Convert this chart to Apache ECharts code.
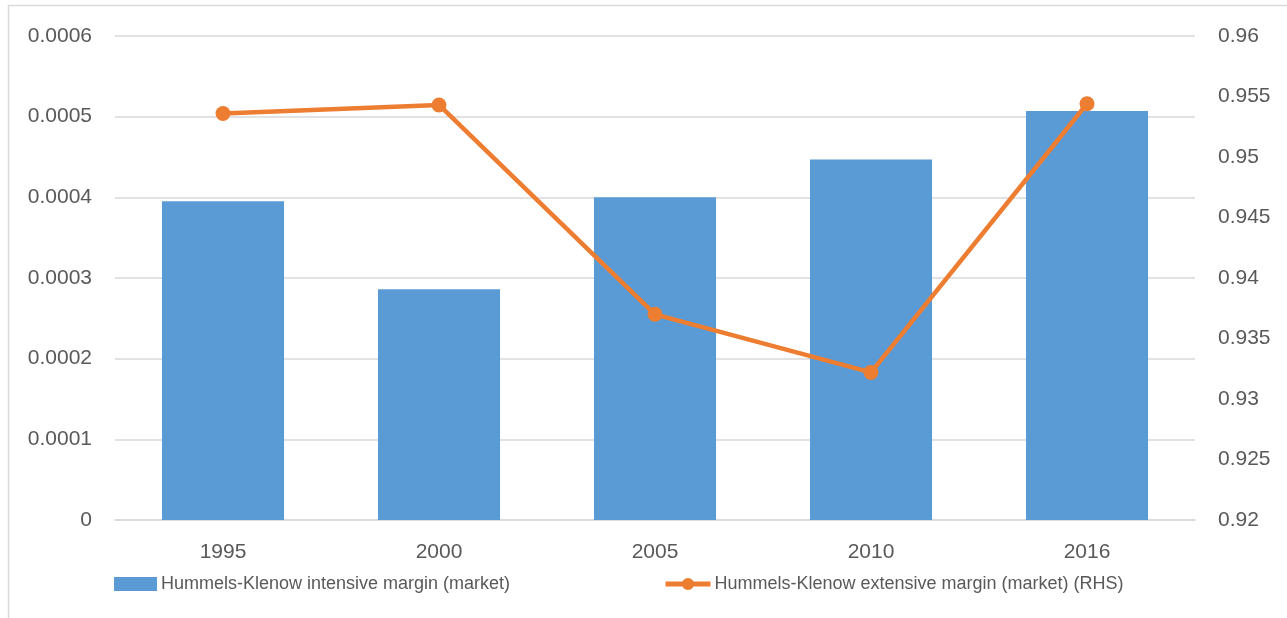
<!DOCTYPE html>
<html>
<head>
<meta charset="utf-8">
<script src="https://cdn.jsdelivr.net/npm/echarts@6/dist/echarts.min.js"></script>
<style>html,body{margin:0;padding:0;background:#fff;}#c{width:1287px;height:618px;}</style>
</head>
<body>
<div id="c"></div>
<script>
const categories = ['1995', '2000', '2005', '2010', '2016'];
const intensiveName = 'Hummels-Klenow intensive margin (market)';
const extensiveName = 'Hummels-Klenow extensive margin (market) (RHS)';
const intensive = [0.000395, 0.000286, 0.000400, 0.000447, 0.000507];
const extensive = [0.9536, 0.9543, 0.9370, 0.9322, 0.9544];
const leftTicks = { min: 0, max: 0.0006, interval: 0.0001 };
const rightTicks = { min: 0.92, max: 0.96, interval: 0.005 };

const FONT = 'Liberation Sans';
const TXT = '#595959';
const legendText = { fontFamily: FONT, fontSize: 18, color: TXT, padding: [0, 0, 0, -1] };
const chart = echarts.init(document.getElementById('c'), null, { renderer: 'canvas' });
chart.setOption({
  animation: false,
  backgroundColor: '#ffffff',
  textStyle: { fontFamily: FONT },
  graphic: [{
    type: 'rect', silent: true, z: -10,
    shape: { x: 8.5, y: 5.5, width: 1400, height: 700 },
    style: { fill: 'none', stroke: '#D9D9D9', lineWidth: 1.5 }
  }],
  grid: { left: 115, right: 92, top: 36, bottom: 98, containLabel: false },
  legend: [{
    top: 575, left: 114, padding: 0,
    itemWidth: 43, itemHeight: 14,
    textStyle: legendText,
    data: [{ name: intensiveName, icon: 'rect' }]
  }, {
    top: 575, left: 663, padding: 0,
    itemWidth: 45, itemHeight: 15,
    textStyle: legendText,
    data: [{ name: extensiveName, lineStyle: { width: 5 } }]
  }],
  xAxis: {
    type: 'category', data: categories,
    axisLine: { show: true, lineStyle: { color: '#D9D9D9', width: 1.5 } },
    axisTick: { show: false },
    axisLabel: { fontFamily: FONT, fontSize: 21, color: TXT, margin: 22 }
  },
  yAxis: [{
    type: 'value', min: leftTicks.min, max: leftTicks.max, interval: leftTicks.interval,
    axisLine: { show: false }, axisTick: { show: false },
    splitLine: { lineStyle: { color: '#D9D9D9', width: 1.5 } },
    axisLabel: { fontFamily: FONT, fontSize: 21, color: TXT, margin: 23,
      formatter: v => String(+v.toFixed(4)) }
  }, {
    type: 'value', min: rightTicks.min, max: rightTicks.max, interval: rightTicks.interval,
    position: 'right',
    axisLine: { show: false }, axisTick: { show: false },
    splitLine: { show: false },
    axisLabel: { fontFamily: FONT, fontSize: 21, color: TXT, margin: 23,
      formatter: v => String(+v.toFixed(3)) }
  }],
  series: [{
    name: intensiveName, type: 'bar', data: intensive, yAxisIndex: 0,
    barWidth: '56.5%',
    itemStyle: { color: '#5B9BD5' }
  }, {
    name: extensiveName, type: 'line', data: extensive, yAxisIndex: 1,
    symbol: 'circle', symbolSize: 15,
    lineStyle: { color: '#ED7D31', width: 4.5 },
    itemStyle: { color: '#ED7D31' }
  }]
});
</script>
</body>
</html>
